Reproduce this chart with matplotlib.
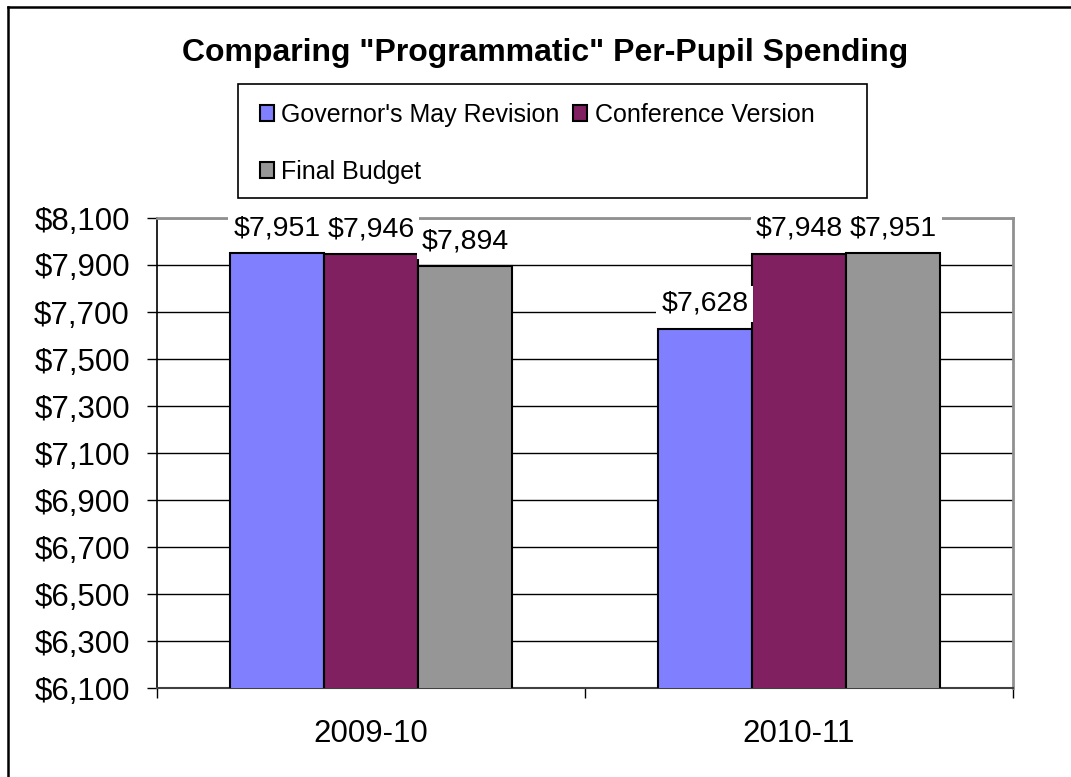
import matplotlib

matplotlib.use("Agg")
import matplotlib.pyplot as plt
from matplotlib.lines import Line2D
from matplotlib.patches import Rectangle
from matplotlib.ticker import FixedLocator, FuncFormatter

plt.rcParams["font.family"] = ["Liberation Sans", "DejaVu Sans"]

categories = ["2009-10", "2010-11"]
series_names = ["Governor's May Revision", "Conference Version", "Final Budget"]
series_values = [
    [7951, 7628],
    [7946, 7948],
    [7894, 7951],
]
colors = ["#8080FF", "#802060", "#969696"]
y_ticks = [6100, 6300, 6500, 6700, 6900, 7100, 7300, 7500, 7700, 7900, 8100]

W, H, DPI = 1071, 777, 100
fig = plt.figure(figsize=(W / DPI, H / DPI), dpi=DPI)

# plot area in pixels: left 157, right 1013, top 218, bottom 688
ax = fig.add_axes([157 / W, (H - 688) / H, (1013 - 157) / W, (688 - 218) / H])

bar_w = 0.22
xs = list(range(len(categories)))
for i, (name, vals, col) in enumerate(zip(series_names, series_values, colors)):
    offs = (i - 1) * bar_w
    bars = ax.bar([x + offs for x in xs], vals, width=bar_w, bottom=0,
                  color=col, edgecolor="black", linewidth=1.5, label=name, zorder=3)
    for b, v in zip(bars, vals):
        ax.annotate(f"${v:,}", (b.get_x() + b.get_width() / 2, v),
                    xytext=(0, 18), textcoords="offset points",
                    ha="center", va="center", fontsize=20.5, zorder=5,
                    bbox=dict(facecolor="white", edgecolor="none", pad=3.5))

ax.set_xlim(-0.5, 1.5)
ax.set_ylim(y_ticks[0], y_ticks[-1])
ax.yaxis.set_major_locator(FixedLocator(y_ticks))
ax.yaxis.set_major_formatter(FuncFormatter(lambda v, p: f"${v:,.0f}"))
ax.grid(axis="y", color="black", linewidth=1, zorder=1)
ax.set_axisbelow(True)

# category boundaries get ticks, category centres get labels
ax.set_xticks([-0.5, 0.5, 1.5])
ax.set_xticklabels([])
ax.set_xticks(xs, minor=True)
ax.set_xticklabels(categories, minor=True)
ax.tick_params(axis="x", which="major", direction="out", length=7.5, width=1, color="black")
ax.tick_params(axis="x", which="minor", length=0, labelsize=22.5, pad=22)
ax.tick_params(axis="y", direction="out", length=7.5, width=1, labelsize=22.5, pad=12)

for side in ("top", "right"):
    ax.spines[side].set_color("#909090")
    ax.spines[side].set_linewidth(2)
ax.spines["left"].set_color("black")
ax.spines["bottom"].set_color("#404040")
ax.spines["left"].set_linewidth(1.2)
ax.spines["bottom"].set_linewidth(1.5)

fig.text(545 / W, 1 - 53 / H, 'Comparing "Programmatic" Per-Pupil Spending',
         ha="center", va="center", fontsize=23, fontweight="bold")

# legend: row order Gov, Conf / Final
h, l = ax.get_legend_handles_labels()
order = [0, 2, 1]
leg = fig.legend([h[k] for k in order], [l[k] for k in order], ncol=2,
                 loc="upper left", bbox_to_anchor=(240 / W, 1 - 83 / H),
                 frameon=False, fontsize=18, handlelength=0.55, handleheight=0.6,
                 handletextpad=0.3, columnspacing=0.55, labelspacing=1.3,
                 borderpad=0.3)
fig.add_artist(Rectangle((238 / W, 1 - 198 / H), (867 - 238) / W, (198 - 84) / H,
                         transform=fig.transFigure, facecolor="none",
                         edgecolor="black", linewidth=1.2))

# chart border (left and top only visible)
fig.add_artist(Line2D([8 / W, 1], [1 - 6.5 / H, 1 - 6.5 / H], color="black", linewidth=1.8))
fig.add_artist(Line2D([8 / W, 8 / W], [0, 1 - 6.5 / H], color="black", linewidth=1.8))

fig.savefig("out.png", dpi=DPI)
